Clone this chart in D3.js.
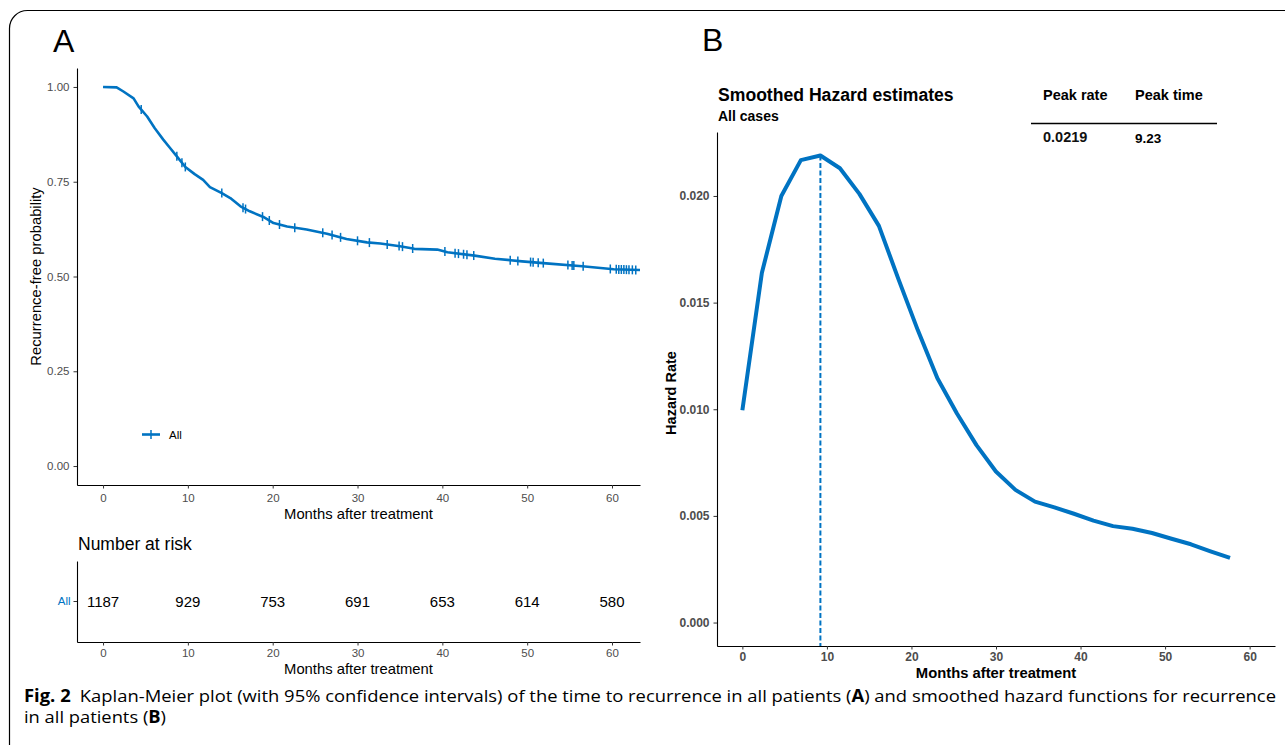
<!DOCTYPE html>
<html>
<head>
<meta charset="utf-8">
<script src="https://cdn.jsdelivr.net/npm/d3@7"></script>
<style>
  body { margin: 0; background: #fff; }
  svg { display: block; }
  text { font-family: "Liberation Sans", Arial, sans-serif; }
  text.caption { font-family: "Open Sans", "Noto Sans", sans-serif; font-size: 17px; }
</style>
</head>
<body>
<script>
// ---- panel A: Kaplan-Meier estimate
const kmTime = [0, 1.6, 2.4, 3.6, 4.2, 5.2, 6.1, 7.1, 7.9, 8.7, 9.7, 10.8, 11.8, 12.6, 14.0, 15.0, 16.2, 17.3, 18.9, 20.1, 21.7, 24.0, 26.4, 28.7, 31.1, 32.7, 35.0, 36.7, 39.4, 40.6, 43.8, 46.2, 49.4, 52.6, 56.5, 60.2, 63.3];
const kmSurv = [1.000, 0.999, 0.988, 0.970, 0.948, 0.922, 0.891, 0.861, 0.839, 0.817, 0.789, 0.770, 0.755, 0.736, 0.720, 0.707, 0.685, 0.672, 0.657, 0.641, 0.632, 0.624, 0.613, 0.599, 0.590, 0.587, 0.580, 0.573, 0.571, 0.564, 0.555, 0.547, 0.540, 0.534, 0.527, 0.519, 0.517];
const censorTimes = [4.5, 8.7, 9.3, 9.7, 14.0, 16.5, 16.8, 18.8, 19.6, 20.8, 22.6, 25.9, 27.0, 28.0, 30.0, 31.4, 33.5, 34.9, 35.3, 36.5, 40.3, 41.5, 41.9, 42.5, 42.9, 43.7, 48.0, 48.9, 50.4, 50.7, 51.3, 51.9, 54.8, 55.3, 55.5, 56.6, 59.8, 60.5, 60.8, 61.1, 61.4, 61.7, 62.0, 62.4, 62.8];
const survTicks = [0, 0.25, 0.5, 0.75, 1];
const monthTicks = [0, 10, 20, 30, 40, 50, 60];

// number at risk
const riskTimes = [0, 10, 20, 30, 40, 50, 60];
const riskCounts = [1187, 929, 753, 691, 653, 614, 580];

// ---- panel B: smoothed hazard
const hzTime = [0, 2.31, 4.61, 6.92, 9.23, 11.54, 13.84, 16.15, 18.46, 20.76, 23.07, 25.38, 27.69, 29.99, 32.30, 34.61, 36.91, 39.22, 41.53, 43.84, 46.14, 48.45, 50.76, 53.06, 55.37, 57.68];
const hzRate = [0.00995, 0.0164, 0.0200, 0.02168, 0.0219, 0.0213, 0.0201, 0.0186, 0.0161, 0.0137, 0.01145, 0.0098, 0.00832, 0.00708, 0.00622, 0.00567, 0.00540, 0.00510, 0.00478, 0.00452, 0.00440, 0.00420, 0.00393, 0.00367, 0.00334, 0.00303];
const hzTicks = [0, 0.005, 0.010, 0.015, 0.020];
const peakRate = 0.0219, peakTime = 9.23;

const blue = "#0073C2";
const W = 1285, H = 745;

const svg = d3.select("body").append("svg")
    .attr("width", W)
    .attr("height", H);

// figure frame (rounded box running off the page)
svg.append("rect")
    .attr("x", 9.5).attr("y", 10.5)
    .attr("width", 1400).attr("height", 752)
    .attr("rx", 18)
    .attr("fill", "none").attr("stroke", "#000").attr("stroke-width", 1.2);

function styleAxis(g, bold) {
  g.select(".domain").attr("stroke", "#000").attr("stroke-width", 1.1);
  g.selectAll(".tick line").attr("stroke", "#333").attr("stroke-width", 1);
  g.selectAll(".tick text")
      .attr("fill", "#4d4d4d")
      .style("font-size", bold ? "12px" : "11.5px")
      .style("font-weight", bold ? "bold" : "normal")
      .style("font-family", '"Liberation Sans", Arial, sans-serif');
}

// ================= Panel A =================
svg.append("text").attr("x", 53).attr("y", 51.5)
    .style("font-size", "32px").text("A");

const xA = d3.scaleLinear().domain([-3.07, 63.3]).range([77, 640]);
const yA = d3.scaleLinear().domain([-0.05, 1.05]).range([485, 68]);

svg.append("g").attr("transform", "translate(0,485)")
    .call(d3.axisBottom(xA).tickValues(monthTicks).tickSize(3.5).tickSizeOuter(0).tickPadding(5))
    .call(g => styleAxis(g, false));
svg.append("g").attr("transform", "translate(77,0)")
    .call(d3.axisLeft(yA).tickValues(survTicks).tickFormat(d3.format(".2f")).tickSize(3.5).tickSizeOuter(0).tickPadding(4))
    .call(g => styleAxis(g, false));

svg.append("text").attr("x", (xA.range()[0] + xA.range()[1]) / 2).attr("y", 519)
    .attr("text-anchor", "middle").style("font-size", "14.8px").text("Months after treatment");
svg.append("text").attr("transform", `translate(41,${yA(0.5)}) rotate(-90)`)
    .attr("text-anchor", "middle").style("font-size", "14.8px").text("Recurrence-free probability");

const km = kmTime.map((t, i) => [t, kmSurv[i]]);
svg.append("path")
    .datum(km)
    .attr("fill", "none").attr("stroke", blue).attr("stroke-width", 2.6)
    .attr("stroke-linejoin", "round")
    .attr("d", d3.line().x(d => xA(d[0])).y(d => yA(d[1])));

// survival at a time
const bis = d3.bisector(d => d[0]).right;
function survAt(t) {
  const i = Math.min(Math.max(bis(km, t), 1), km.length - 1);
  const a = km[i - 1], b = km[i];
  return a[1] + (b[1] - a[1]) * (t - a[0]) / (b[0] - a[0]);
}
svg.append("g").selectAll("line")
    .data(censorTimes)
    .join("line")
    .attr("x1", d => xA(d)).attr("x2", d => xA(d))
    .attr("y1", d => yA(survAt(d)) - 4.5).attr("y2", d => yA(survAt(d)) + 4.5)
    .attr("stroke", blue).attr("stroke-width", 1.5);

// legend
const lg = svg.append("g").attr("transform", "translate(142,434.5)");
lg.append("line").attr("x1", 0).attr("x2", 18).attr("stroke", blue).attr("stroke-width", 2.6);
lg.append("line").attr("x1", 9).attr("x2", 9).attr("y1", -4.5).attr("y2", 4.5).attr("stroke", blue).attr("stroke-width", 1.5);
lg.append("text").attr("x", 27).attr("y", 4.2).style("font-size", "11.5px").text("All");

// risk table
svg.append("text").attr("x", 78).attr("y", 550).style("font-size", "17.5px").text("Number at risk");
const yR = d3.scaleBand().domain(["All"]).range([561, 642]);
svg.append("g").attr("transform", "translate(0,642)")
    .call(d3.axisBottom(xA).tickValues(monthTicks).tickSize(3.5).tickSizeOuter(0).tickPadding(3))
    .call(g => styleAxis(g, false));
const ra = svg.append("g").attr("transform", "translate(77,0)")
    .call(d3.axisLeft(yR).tickSize(3.5).tickSizeOuter(0).tickPadding(3))
    .call(g => styleAxis(g, false));
ra.selectAll(".tick text").attr("fill", blue);
svg.append("g").selectAll("text")
    .data(riskTimes)
    .join("text")
    .attr("x", d => xA(d)).attr("y", yR("All") + yR.bandwidth() / 2)
    .attr("dy", "0.36em").attr("text-anchor", "middle")
    .style("font-size", "15px")
    .text((d, i) => riskCounts[i]);
svg.append("text").attr("x", (xA.range()[0] + xA.range()[1]) / 2).attr("y", 674)
    .attr("text-anchor", "middle").style("font-size", "14.8px").text("Months after treatment");

// ================= Panel B =================
svg.append("text").attr("x", 702).attr("y", 51)
    .style("font-size", "32px").text("B");

const xB = d3.scaleLinear().domain([-3, 63]).range([717, 1275]);
const yB = d3.scaleLinear().domain([-0.0011, 0.023]).range([646, 132]);

svg.append("g").attr("transform", "translate(0,646)")
    .call(d3.axisBottom(xB).tickValues(monthTicks).tickSize(3.5).tickSizeOuter(0).tickPadding(3))
    .call(g => styleAxis(g, true));
svg.append("g").attr("transform", "translate(717,0)")
    .call(d3.axisLeft(yB).tickValues(hzTicks).tickFormat(d3.format(".3f")).tickSize(3.5).tickSizeOuter(0).tickPadding(4))
    .call(g => styleAxis(g, true));

svg.append("text").attr("x", 718).attr("y", 100.5)
    .style("font-size", "17.6px").style("font-weight", "bold").text("Smoothed Hazard estimates");
svg.append("text").attr("x", 718).attr("y", 121)
    .style("font-size", "14px").style("font-weight", "bold").text("All cases");

svg.append("text").attr("x", (xB.range()[0] + xB.range()[1]) / 2).attr("y", 677.5)
    .attr("text-anchor", "middle").style("font-size", "14.8px").style("font-weight", "bold")
    .text("Months after treatment");
svg.append("text").attr("transform", `translate(676,${(yB.range()[0] + yB.range()[1]) / 2 + 4}) rotate(-90)`)
    .attr("text-anchor", "middle").style("font-size", "14.5px").style("font-weight", "bold")
    .text("Hazard Rate");

// peak marker
svg.append("line")
    .attr("x1", xB(peakTime)).attr("x2", xB(peakTime))
    .attr("y1", yB(peakRate)).attr("y2", 646)
    .attr("stroke", blue).attr("stroke-width", 2).attr("stroke-dasharray", "5,2.5");

svg.append("path")
    .datum(hzTime.map((t, i) => [t, hzRate[i]]))
    .attr("fill", "none").attr("stroke", blue).attr("stroke-width", 4)
    .attr("stroke-linejoin", "round")
    .attr("d", d3.line().x(d => xB(d[0])).y(d => yB(d[1])));

// peak table
const pt = svg.append("g");
pt.append("text").attr("x", 1043).attr("y", 100).style("font-size", "14.5px").style("font-weight", "bold").text("Peak rate");
pt.append("text").attr("x", 1135).attr("y", 100).style("font-size", "14.5px").style("font-weight", "bold").text("Peak time");
pt.append("line").attr("x1", 1031).attr("x2", 1217).attr("y1", 123.5).attr("y2", 123.5)
    .attr("stroke", "#000").attr("stroke-width", 1.6);
pt.append("text").attr("x", 1043).attr("y", 142).style("font-size", "14.5px").style("font-weight", "bold").style("fill", "#111")
    .text(d3.format(".4f")(peakRate));
pt.append("text").attr("x", 1135).attr("y", 143).style("font-weight", "bold").style("font-size", "13.5px")
    .text(peakTime);

// ================= caption =================
const c1 = svg.append("text").attr("class", "caption").attr("x", 24).attr("y", 702)
    .attr("textLength", 1252).attr("lengthAdjust", "spacingAndGlyphs");
c1.append("tspan").style("font-weight", "bold").text("Fig. 2");
c1.append("tspan").text("\u2002Kaplan-Meier plot (with 95% confidence intervals) of the time to recurrence in all patients (");
c1.append("tspan").style("font-weight", "bold").text("A");
c1.append("tspan").text(") and smoothed hazard functions for recurrence");
const c2 = svg.append("text").attr("class", "caption").attr("x", 24).attr("y", 723)
    .attr("textLength", 142).attr("lengthAdjust", "spacingAndGlyphs");
c2.append("tspan").text("in all patients (");
c2.append("tspan").style("font-weight", "bold").text("B");
c2.append("tspan").text(")");
</script>
</body>
</html>
